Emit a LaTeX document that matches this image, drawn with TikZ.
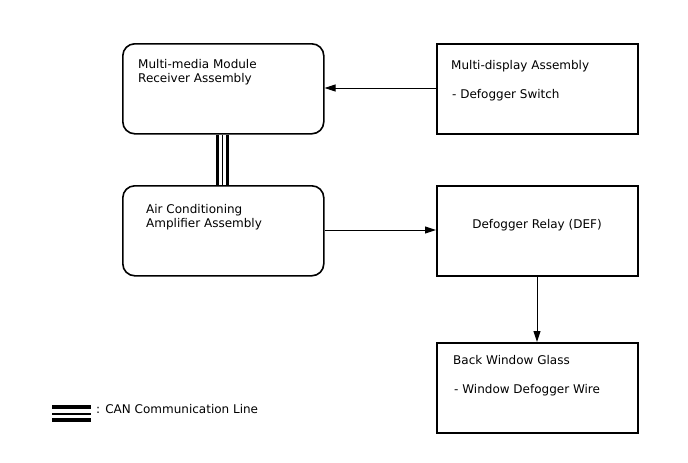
\documentclass[tikz,border=0pt]{standalone}
\usepackage{fontspec}
\setmainfont{DejaVu Sans}
\usetikzlibrary{arrows.meta}
\begin{document}
\begin{tikzpicture}[x=1pt,y=-1pt,
  rbox/.style={draw,line width=1.6pt,rounded corners=12pt},
  sbox/.style={draw,line width=1.6pt},
  lbl/.style={font=\fontsize{12}{14}\selectfont,inner sep=0pt,anchor=west,align=left},
  conn/.style={line width=1pt,-{Triangle[length=11pt,width=7pt]}}]
\useasboundingbox (0,0) rectangle (688,463);
% boxes
\node[rbox,minimum width=201pt,minimum height=90pt,anchor=north west] (mmr) at (122,43) {};
\node[sbox,minimum width=201pt,minimum height=90pt,anchor=north west] (md) at (436,43) {};
\node[rbox,minimum width=201pt,minimum height=90pt,anchor=north west] (ac) at (122,185) {};
\node[sbox,minimum width=201pt,minimum height=90pt,anchor=north west] (dr) at (436,185) {};
\node[sbox,minimum width=201pt,minimum height=90pt,anchor=north west] (bw) at (436,342) {};
% texts
\node[lbl] (t1) at (138,72) {Multi-media Module\\Receiver Assembly};
\node[lbl] (t2) at (451,66) {Multi-display Assembly};
\node[lbl] (t3) at (452,95) {- Defogger Switch};
\node[lbl] (t4) at (146,217) {Air Conditioning\\Amplifier Assembly};
\node[lbl,anchor=center] (t5) at (537,225) {Defogger Relay (DEF)};
\node[lbl] (t6) at (453,360) {Back Window Glass};
\node[lbl] (t7) at (454,390) {- Window Defogger Wire};
% connectors
\draw[conn] (md.west |- 0,88) -- (mmr.east |- 0,88);
\draw[conn] (ac.east |- 0,230) -- (dr.west |- 0,230);
\draw[conn] (dr.south -| 537,0) -- (bw.north -| 537,0);
% CAN line
\draw[line width=3pt] (mmr.south -| 217.5,0) -- (ac.north -| 217.5,0);
\draw[line width=1.5pt] (mmr.south -| 222.5,0) -- (ac.north -| 222.5,0);
\draw[line width=3pt] (mmr.south -| 227.5,0) -- (ac.north -| 227.5,0);
% legend
\coordinate (la) at (52,407);
\coordinate (lb) at (91,407);
\draw[line width=4pt] (la) -- (lb);
\draw[line width=2pt] ([yshift=-6.5pt]la) -- ([yshift=-6.5pt]lb);
\draw[line width=4pt] ([yshift=-12.5pt]la) -- ([yshift=-12.5pt]lb);
\node[lbl] (leg) at (96,409) {: CAN Communication Line};
\end{tikzpicture}
\end{document}
